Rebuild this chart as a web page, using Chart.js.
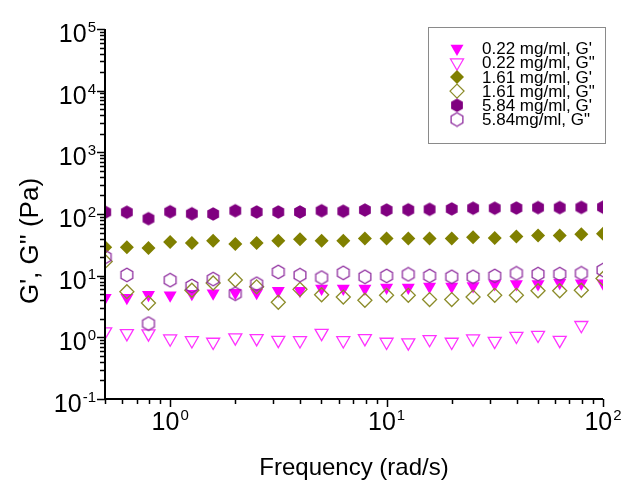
<!DOCTYPE html>
<html>
<head>
<meta charset="utf-8">
<script src="https://cdn.jsdelivr.net/npm/chart.js@4.4.0/dist/chart.umd.min.js"></script>
<style>
  html, body { margin: 0; padding: 0; background: #fff; }
</style>
</head>
<body>
<canvas id="myChart" width="629" height="483"></canvas>
<script>
// frequency sweep, rad/s
var freq = [0.501, 0.631, 0.794, 1.0, 1.26, 1.58, 2.0, 2.51, 3.16, 3.98, 5.01, 6.31,
            7.94, 10, 12.6, 15.8, 20, 25.1, 31.6, 39.8, 50.1, 63.1, 79.4, 100];

// moduli, Pa
var g1_022 = [4.4, 4.4, 4.9, 4.8, 5.1, 5.2, 5.3, 5.3, 5.7, 5.7, 6.2, 6.2,
              6.2, 6.4, 6.4, 6.7, 6.7, 6.8, 7.3, 7.3, 7.3, 7.7, 7.5, 7.5];
var g2_022 = [1.24, 1.16, 1.15, 0.95, 0.89, 0.84, 0.99, 0.96, 0.90, 0.89, 1.17, 0.89,
              0.96, 0.84, 0.82, 0.93, 0.84, 0.95, 0.87, 1.05, 1.09, 0.90, 1.57, null];
var g1_161 = [29, 29, 28, 35, 34, 37, 32.5, 34, 37, 39, 37, 37,
              40, 40, 40, 40, 40, 42, 41, 43, 45, 45, 47, 48];
var g2_161 = [17, 5.5, 3.6, null, 5.8, 7.6, 8.5, 6.6, 3.7, 6.0, 4.9, 4.5,
              4.0, 4.8, 4.8, 4.1, 4.1, 4.5, 4.8, 4.8, 5.7, 5.7, 5.8, 9];
var g1_584 = [107, 107, 84, 109, 101, 100, 113, 108, 108, 108, 113, 111,
              116, 116, 117, 119, 121, 124, 124, 125, 127, 127, 128, 129];
var g2_584 = [20, 10.3, 1.67, 8.45, 6.8, 8.8, 5.1, 7.4, 11.5, 10.2, 9.3, 11.1,
              9.6, 9.9, 10.5, 9.9, 9.6, 9.6, 9.9, 10.9, 10.6, 10.6, 10.9, 12.3];

var seriesLabels = ["0.22 mg/ml, G'", '0.22 mg/ml, G"', "1.61 mg/ml, G'",
                    '1.61 mg/ml, G"', "5.84 mg/ml, G'", '5.84mg/ml, G"'];

var xExponents = [0, 1, 2];
var yExponents = [-1, 0, 1, 2, 3, 4, 5];
var xTitle = 'Frequency (rad/s)';
var yTitle = "G', G'' (Pa)";

var FONT = '"Liberation Sans", Arial, sans-serif';

function pts(vals) {
    return freq.map(function (f, i) { return { x: f, y: vals[i] }; });
}

// Chart.js has no hexagon, so build one as an image
function hexImage(fill, stroke) {
    var c = document.createElement('canvas');
    c.width = 16; c.height = 16;
    var g = c.getContext('2d');
    g.beginPath();
    for (var i = 0; i < 6; i++) {
        var a = Math.PI / 2 + i * Math.PI / 3;
        var px = 8 + 6.8 * Math.cos(a), py = 8 + 6.8 * Math.sin(a);
        if (i) g.lineTo(px, py); else g.moveTo(px, py);
    }
    g.closePath();
    if (fill) { g.fillStyle = fill; g.fill(); }
    if (stroke) { g.strokeStyle = stroke; g.lineWidth = 1.3; g.stroke(); }
    return c;
}

var styles = [
    { pointStyle: 'triangle', rotation: 180, radius: 7.5, bg: '#ff00ff', border: '#ff00ff', bw: 0 },
    { pointStyle: 'triangle', rotation: 180, radius: 7.5, bg: 'rgba(0,0,0,0)', border: '#ff33ff', bw: 1.3 },
    { pointStyle: 'rectRot', rotation: 0, radius: 7, bg: '#808000', border: '#808000', bw: 0 },
    { pointStyle: 'rectRot', rotation: 0, radius: 7, bg: 'rgba(0,0,0,0)', border: '#8c8c2a', bw: 1.3 },
    { pointStyle: hexImage('#800080', null), rotation: 0, radius: 7, bg: '#800080', border: '#800080', bw: 0 },
    { pointStyle: hexImage(null, '#9030a0'), rotation: 0, radius: 7, bg: 'rgba(0,0,0,0)', border: '#9030a0', bw: 0 }
];
var allValues = [g1_022, g2_022, g1_161, g2_161, g1_584, g2_584];

var datasets = allValues.map(function (vals, i) {
    var s = styles[i];
    return {
        label: seriesLabels[i],
        data: pts(vals),
        showLine: false,
        pointStyle: s.pointStyle,
        rotation: s.rotation,
        pointRadius: s.radius,
        pointBackgroundColor: s.bg,
        pointBorderColor: s.border,
        pointBorderWidth: s.bw,
        order: 5 - i,
        clip: 0
    };
});

function drawPow(ctx, exp, x, y, align) {
    ctx.font = '25px ' + FONT;
    var wb = ctx.measureText('10').width;
    ctx.font = '15px ' + FONT;
    var sup = String(exp);
    var ws = ctx.measureText(sup).width;
    var total = wb + 1 + ws;
    var start = align === 'right' ? x - total : x - total / 2;
    ctx.textAlign = 'left';
    ctx.textBaseline = 'alphabetic';
    ctx.font = '25px ' + FONT;
    ctx.fillText('10', start, y);
    ctx.font = '15px ' + FONT;
    ctx.fillText(sup, start + wb + 1, y - 10);
}

var axisPlugin = {
    id: 'axisPlugin',
    afterDraw: function (chart) {
        var ctx = chart.ctx, a = chart.chartArea;
        var xs = chart.scales.x, ys = chart.scales.y;
        ctx.save();
        ctx.strokeStyle = '#000';
        ctx.fillStyle = '#000';

        // tick marks, outward
        ctx.lineWidth = 1.5;
        ctx.beginPath();
        for (var d = -1; d <= 2; d++) {
            for (var m = 1; m <= 9; m++) {
                var v = m * Math.pow(10, d);
                if (v < xs.min - 1e-9 || v > xs.max + 1e-9) continue;
                var px = Math.round(xs.getPixelForValue(v)) + 0.5;
                ctx.moveTo(px, a.bottom);
                ctx.lineTo(px, a.bottom + (m === 1 ? 8 : 5));
            }
        }
        for (d = -1; d <= 5; d++) {
            for (m = 1; m <= 9; m++) {
                v = m * Math.pow(10, d);
                if (v < ys.min - 1e-12 || v > ys.max + 1e-9) continue;
                var py = Math.round(ys.getPixelForValue(v)) + 0.5;
                ctx.moveTo(a.left, py);
                ctx.lineTo(a.left - (m === 1 ? 8 : 5), py);
            }
        }
        ctx.stroke();

        // axis lines
        ctx.lineWidth = 2;
        ctx.beginPath();
        ctx.moveTo(a.left, a.top);
        ctx.lineTo(a.left, a.bottom);
        ctx.lineTo(a.right, a.bottom);
        ctx.stroke();

        // tick labels
        xExponents.forEach(function (e) {
            drawPow(ctx, e, xs.getPixelForValue(Math.pow(10, e)), a.bottom + 31, 'center');
        });
        yExponents.forEach(function (e) {
            drawPow(ctx, e, 96, ys.getPixelForValue(Math.pow(10, e)) + 13, 'right');
        });

        // axis titles
        ctx.textAlign = 'center';
        ctx.textBaseline = 'middle';
        ctx.font = '24px ' + FONT;
        ctx.fillText(xTitle, (a.left + a.right) / 2, 468);
        ctx.save();
        ctx.font = '26px ' + FONT;
        ctx.translate(31, 241);
        ctx.rotate(-Math.PI / 2);
        ctx.fillText(yTitle, 0, 0);
        ctx.restore();

        // legend box
        var lx = 428, ly = 27, lw = 177, lh = 116;
        ctx.lineWidth = 1;
        ctx.strokeStyle = '#8a8a8a';
        ctx.strokeRect(lx + 0.5, ly + 0.5, lw, lh);
        ctx.font = '17px ' + FONT;
        ctx.textAlign = 'left';
        ctx.textBaseline = 'middle';
        chart.data.datasets.forEach(function (ds, i) {
            var ry = 48.5 + i * 14.2;
            ctx.fillStyle = ds.pointBackgroundColor;
            ctx.strokeStyle = ds.pointBorderColor;
            ctx.lineWidth = ds.pointBorderWidth;
            Chart.helpers.drawPoint(ctx, {
                pointStyle: ds.pointStyle,
                rotation: ds.rotation,
                radius: ds.pointRadius,
                borderWidth: ds.pointBorderWidth
            }, 457, ry);
            ctx.fillStyle = '#000';
            ctx.fillText(ds.label, 482, ry + 1);
        });
        ctx.restore();
    }
};

var ctx = document.getElementById('myChart').getContext('2d');

var myChart = new Chart(ctx, {
    type: 'scatter',
    data: { datasets: datasets },
    options: {
        responsive: false,
        animation: false,
        layout: { padding: { top: 29, right: 26, left: 0, bottom: 0 } },
        plugins: {
            legend: { display: false },
            tooltip: { enabled: false }
        },
        scales: {
            x: {
                type: 'logarithmic',
                min: 0.5,
                max: 100,
                ticks: { display: false },
                grid: { display: false },
                border: { display: false },
                afterFit: function (scale) { scale.height = 84; }
            },
            y: {
                type: 'logarithmic',
                min: 0.1,
                max: 100000,
                ticks: { display: false },
                grid: { display: false },
                border: { display: false },
                afterFit: function (scale) { scale.width = 105; }
            }
        }
    },
    plugins: [axisPlugin]
});
</script>
</body>
</html>
